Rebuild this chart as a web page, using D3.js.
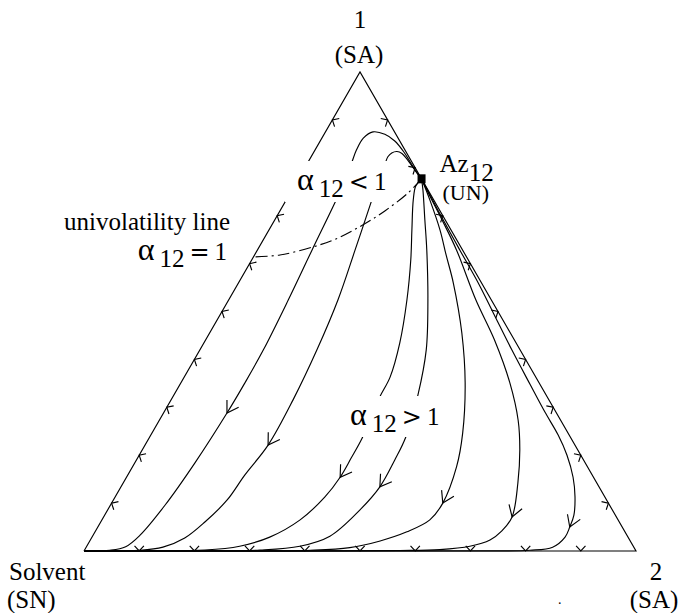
<!DOCTYPE html>
<html>
<head>
<meta charset="utf-8">
<script src="https://cdn.jsdelivr.net/npm/d3@7/dist/d3.min.js"></script>
<style>
  html, body { margin: 0; padding: 0; background: #fff; }
  svg { display: block; }
  text { font-family: "Liberation Serif", "Times New Roman", serif; fill: #000; }
</style>
</head>
<body>
<svg id="chart" width="681" height="613"></svg>
<script>
// Compositions are [x1, x2] mole fractions; the solvent fraction is 1 - x1 - x2.
const azeotrope = [0.777, 0.223];

// Residue curves, each running from the azeotrope Az12 to the solvent vertex.
const curve1 = [[.777,.223],[.790,.208],[.810,.187],[.833,.163],[.856,.135],[.870,.110],[.875,.086],[.862,.075],[.837,.075],[.809,.080],[.775,.086],[.727,.091],[.628,.099],[.524,.108],[.420,.115],[.351,.116],[.288,.115],[.184,.109],[.096,.099],[.033,.085],[.009,.071],[.0015,.046],[0,0]];
const curve2 = [[.777,.223],[.789,.209],[.804,.192],[.819,.175],[.830,.161],[.834,.150],[.831,.142],[.823,.139],[.809,.141],[.770,.147],[.733,.155],[.628,.177],[.524,.198],[.420,.212],[.315,.221],[.221,.223],[.159,.212],[.106,.206],[.061,.189],[.027,.169],[.008,.139],[.0013,.101],[0,0]];
const curve3 = [[.777,.223],[.762,.220],[.733,.230],[.670,.259],[.608,.288],[.524,.323],[.434,.355],[.363,.373],[.322,.375],[.273,.381],[.236,.386],[.194,.387],[.154,.387],[.113,.380],[.065,.359],[.029,.322],[.010,.277],[.002,.218],[.0004,.12],[0,0]];
const curve4 = [[.777,.223],[.754,.237],[.691,.272],[.628,.307],[.524,.361],[.420,.410],[.326,.442],[.238,.464],[.190,.468],[.134,.469],[.086,.457],[.031,.430],[.010,.386],[.002,.318],[.0004,.210],[0,0]];
const curve5 = [[.777,.223],[.733,.260],[.670,.310],[.618,.347],[.560,.389],[.455,.457],[.351,.515],[.246,.563],[.176,.587],[.100,.600],[.065,.594],[.040,.565],[.021,.526],[.007,.478],[.0015,.409],[.0002,.283],[0,0]];
const curve6 = [[.777,.223],[.741,.256],[.687,.307],[.628,.361],[.524,.448],[.441,.523],[.351,.596],[.273,.650],[.211,.684],[.142,.715],[.071,.740],[.042,.736],[.023,.724],[.010,.694],[.003,.643],[.001,.572],[.0003,.391],[0,0]];
const curve7 = [[.777,.223],[.712,.285],[.628,.367],[.560,.434],[.497,.493],[.420,.565],[.347,.635],[.290,.690],[.242,.738],[.200,.775],[.154,.809],[.113,.833],[.075,.850],[.050,.855],[.029,.857],[.008,.845],[.0015,.807],[.0002,.717],[0,0]];
const residueCurves = [curve1, curve2, curve3, curve4, curve5, curve6, curve7];
// Point of each curve that carries its direction arrow.
const curveArrowIndex = [16, 15, 12, 9, 9, 10, 13];

// Univolatility line alpha12 = 1, from Az12 to the 1-solvent edge.
const univolatilityLine = [[.777,.223],[.747,.213],[.710,.190],[.681,.165],[.653,.133],[.635,.098],[.618,.046],[.614,0]];

// Arrow marks along each edge of the triangle.
const edgeArrowSteps = [0.1, 0.2, 0.3, 0.4, 0.5, 0.6, 0.7, 0.8, 0.9];

// Vertex names and their singular-point types.
const vertexNames = ["1", "Solvent", "2"];
const vertexTypes = ["(SA)", "(SN)", "(SA)"];

const xScale = d3.scaleLinear().domain([0, 1]).range([84, 636]);
const yScale = d3.scaleLinear().domain([0, 1]).range([551, 72]);
const project = ([x1, x2]) => [xScale(x2 + x1 / 2), yScale(x1)];

const svg = d3.select("#chart");
const smooth = d3.line().curve(d3.curveCatmullRom.alpha(0.5));
const straight = d3.line();

const plot = svg.append("g").attr("fill", "none").attr("stroke", "#000").attr("stroke-width", 1.15);

// Triangle: solvent -> 1 -> 2
const corners = [[0, 0], [1, 0], [0, 1]];
plot.append("path").attr("d", straight([...corners, corners[0]].map(project)));

// residue curves
residueCurves.forEach(c => plot.append("path").attr("d", smooth(c.map(project))));

// univolatility line
plot.append("path")
  .attr("d", smooth(univolatilityLine.map(project)))
  .attr("stroke-dasharray", "12,4,2,4");

function chevron(tip, angle, half, len) {
  const a1 = angle + Math.PI - half, a2 = angle + Math.PI + half;
  return `M${tip[0] + len * Math.cos(a1)},${tip[1] + len * Math.sin(a1)}L${tip[0]},${tip[1]}L${tip[0] + len * Math.cos(a2)},${tip[1] + len * Math.sin(a2)}`;
}

// arrows on residue curves (pointing toward the solvent)
residueCurves.forEach((c, k) => {
  const i = curveArrowIndex[k];
  const p0 = project(c[i - 1]), p = project(c[i]), p1 = project(c[i + 1]);
  const ang = Math.atan2(p1[1] - p0[1], p1[0] - p0[0]);
  plot.append("path").attr("d", chevron(p, ang, 32 * Math.PI / 180, 13));
});

// arrows on the edges, drawn as chevrons pointing onto the edge
const edges = [
  { from: [0, 0], to: [1, 0], at: s => [s, 0] },
  { from: [1, 0], to: [0, 1], at: s => [1 - s, s] },
  { from: [0, 1], to: [0, 0], at: s => [0, s] }
];
edges.forEach(e => {
  const a = project(e.from), b = project(e.to);
  const dx = b[0] - a[0], dy = b[1] - a[1];
  const outward = Math.atan2(-dx, dy);
  edgeArrowSteps.forEach(s => {
    plot.append("path").attr("d", chevron(project(e.at(s)), outward, 42 * Math.PI / 180, 7));
  });
});

// Az12 node
const az = project(azeotrope);
svg.append("rect").attr("x", az[0] - 4).attr("y", az[1] - 4.5).attr("width", 8).attr("height", 9).attr("fill", "#000");

const fs = 25;
const labels = svg.append("g").attr("font-size", fs);

// vertex labels
const apex = project([1, 0]), solventPt = project([0, 0]), comp2Pt = project([0, 1]);
labels.append("text").attr("x", apex[0]).attr("y", apex[1] - 44).attr("text-anchor", "middle").text(vertexNames[0]);
labels.append("text").attr("x", apex[0] - 1).attr("y", apex[1] - 9).attr("text-anchor", "middle").text(vertexTypes[0]);
labels.append("text").attr("x", solventPt[0] - 75).attr("y", solventPt[1] + 29).text(vertexNames[1]);
labels.append("text").attr("x", solventPt[0] - 77).attr("y", solventPt[1] + 57).text(vertexTypes[1]);
labels.append("text").attr("x", comp2Pt[0] + 20).attr("y", comp2Pt[1] + 29).attr("text-anchor", "middle").text(vertexNames[2]);
labels.append("text").attr("x", comp2Pt[0] + 18).attr("y", comp2Pt[1] + 57).attr("text-anchor", "middle").text(vertexTypes[2]);
labels.append("text").attr("x", 558).attr("y", 604).attr("font-size", 14).text(".");

// Az12 label
const azText = labels.append("text").attr("x", az[0] + 18).attr("y", az[1] - 7);
azText.append("tspan").text("Az");
azText.append("tspan").attr("dy", 9).text("12");
labels.append("text").attr("x", az[0] + 21).attr("y", az[1] + 21).attr("font-size", 22).text("(UN)");

// alpha labels written on a white patch over the curves
function alphaLabel(x, y, rel, anchor, patch) {
  const g = labels.append("g");
  const t = g.append("text").attr("x", x).attr("y", y).attr("text-anchor", anchor || "start");
  t.append("tspan").attr("font-size", 32).text("α");
  t.append("tspan").attr("dx", 5).attr("dy", 7).text("12");
  t.append("tspan").attr("dx", 5).attr("dy", -7)
    .attr("font-family", "'DejaVu Serif', serif").attr("font-size", 24).text(rel);
  t.append("tspan").attr("dx", 5).text("1");
  if (patch) {
    const b = t.node().getBBox();
    g.insert("rect", "text")
      .attr("x", b.x - 12).attr("y", b.y)
      .attr("width", b.width + 16).attr("height", b.height)
      .attr("fill", "#fff");
  }
}
alphaLabel(297, 190, "<", "start", true);
alphaLabel(350, 425, ">", "start", true);

labels.append("text").attr("x", 230).attr("y", 230).attr("text-anchor", "end").text("univolatility line");
alphaLabel(227, 260, "=", "end", false);
</script>
</body>
</html>
